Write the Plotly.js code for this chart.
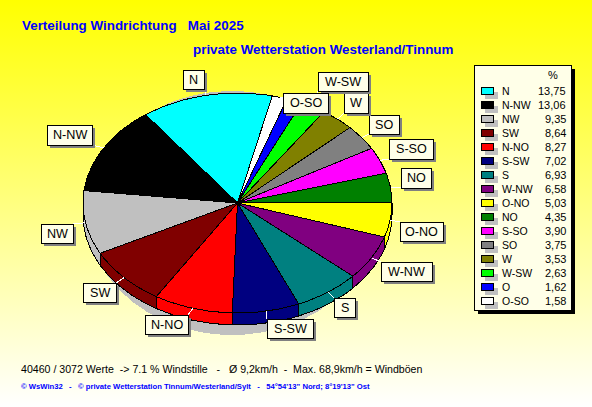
<!DOCTYPE html>
<html><head><meta charset="utf-8">
<script src="https://cdn.plot.ly/plotly-3.0.1.min.js"></script>
<style>html,body{margin:0;padding:0;width:592px;height:407px;overflow:hidden;background:linear-gradient(to bottom,#ffff00 0%,#ffffff 100%)}#c{width:592px;height:407px}
.scatterlayer path,.shapelayer path{shape-rendering:crispEdges}</style>
</head><body><div id="c"></div>
<script>
const categories=["N","N-NW","NW","SW","N-NO","S-SW","S","W-NW","O-NO","NO","S-SO","SO","W","W-SW","O","O-SO"];
const values=[13.75,13.06,9.35,8.64,8.27,7.02,6.93,6.58,5.03,4.35,3.90,3.75,3.53,2.63,1.62,1.58];
const valueLabels=["13,75","13,06","9,35","8,64","8,27","7,02","6,93","6,58","5,03","4,35","3,90","3,75","3,53","2,63","1,62","1,58"];
const colors=["#00FFFF","#000000","#C0C0C0","#800000","#FF0000","#000080","#008080","#800080","#FFFF00","#008000","#FF00FF","#808080","#808000","#00FF00","#0000FF","#FFFFFF"];
const title1="Verteilung Windrichtung\u00a0\u00a0\u00a0Mai 2025";
const title2="private Wetterstation Westerland/Tinnum";
const footer1="40460 / 3072 Werte\u00a0\u00a0-> 7.1 % Windstille\u00a0\u00a0\u00a0-\u00a0\u00a0\u00a0Ø 9,2km/h\u00a0\u00a0-\u00a0\u00a0Max. 68,9km/h = Windböen";
const footer2="© WsWin32\u00a0\u00a0\u00a0-\u00a0\u00a0\u00a0© private Wetterstation Tinnum/Westerland/Sylt\u00a0\u00a0\u00a0-\u00a0\u00a0\u00a054°54'13\" Nord; 8°19'13\" Ost";

// layout geometry
const cx=237.5,cy=203,rx=154.5,ry=110,depth=12,startDeg=13;
const boxes={ "N":[183,70,204,89],"N-NW":[47,125,92,145],"NW":[41,224,73,243],"SW":[83,283,116,302],
 "N-NO":[145,315,188,334],"S-SW":[267,319,313,338],"S":[334,298,355,317],"W-NW":[381,262,432,281],
 "O-NO":[400,222,443,241],"NO":[401,168,431,188],"S-SO":[389,139,433,159],"SO":[369,115,399,134],
 "W":[344,93,368,113],"W-SW":[318,72,368,91],"O-SO":[283,93,328,113]};

const pt=(deg,dy=0)=>{const r=deg*Math.PI/180;return [cx+rx*Math.sin(r),cy-ry*Math.cos(r)+dy];};
const arc=(a,b,dy=0)=>{const n=Math.max(2,Math.ceil(Math.abs(b-a)));const o=[];for(let i=0;i<=n;i++)o.push(pt(a+(b-a)*i/n,dy));return o;};
const total=values.reduce((s,v)=>s+v,0);
const traces=[];
const add=(pts,fill,name)=>traces.push({type:'scatter',mode:'lines',name:name,x:pts.map(p=>p[0]),y:pts.map(p=>p[1]),fill:'toself',fillcolor:fill,line:{color:'#000',width:1},hoverinfo:'skip',showlegend:false});

// soft shadow under the pie
{const s=[];for(let i=0;i<=360;i+=2){const r=i*Math.PI/180;s.push([232+145*Math.sin(r),213-122*Math.cos(r)]);}
 traces.push({type:'scatter',mode:'lines',x:s.map(p=>p[0]),y:s.map(p=>p[1]),fill:'toself',fillcolor:'#C0C0C0',line:{width:0},hoverinfo:'skip',showlegend:false});}

// slices run clockwise, starting from the smallest
const order=categories.map((_,i)=>i).reverse();
let acc=startDeg;const spans={};
order.forEach(i=>{const d=values[i]/total*360;spans[i]=[acc,acc+d];acc+=d;});
// side walls
order.forEach(i=>{let [a,b]=spans[i];const lo=Math.max(a,90),hi=Math.min(b,270);
 if(hi>lo){add(arc(lo,hi).concat(arc(hi,lo,depth)).concat([pt(lo)]),colors[i],categories[i]+" wall");}});
// top faces
order.forEach(i=>{const [a,b]=spans[i];add([[cx,cy]].concat(arc(a,b)).concat([[cx,cy]]),colors[i],categories[i]);});

const shapes=[],ann=[];
const rect=(x0,y0,x1,y1,fill,line)=>shapes.push({type:'rect',layer:'above',xref:'x',yref:'y',x0,y0,x1,y1,fillcolor:fill,line:line?{color:line,width:1}:{width:0}});
const text=(t,x,y,anchor,size,color,bold,fam)=>ann.push({xref:'x',yref:'y',x,y,text:bold?'<b>'+t+'</b>':t,showarrow:false,xanchor:anchor,yanchor:'middle',borderpad:0,font:{family:fam||'Liberation Sans',size,color}});
const paper='#FFFFE8';

// callout labels
categories.forEach((c,i)=>{const bx=boxes[c];if(!bx)return;
 const m=(spans[i][0]+spans[i][1])/2,p=pt(m);
 const ex=Math.min(bx[2],Math.max(bx[0],p[0])),ey=Math.min(bx[3],Math.max(bx[1],p[1]));
 shapes.push({type:'line',layer:'above',xref:'x',yref:'y',x0:p[0],y0:p[1],x1:ex,y1:ey,line:{color:'#fff',width:1}});
 rect(bx[0]+3,bx[1]+3,bx[2]+3,bx[3]+3,'#808080');
 rect(bx[0],bx[1],bx[2],bx[3],paper,'#000');
 text(c,(bx[0]+bx[2])/2,(bx[1]+bx[3])/2,'center',12.6,'#000');
});

// legend panel
rect(478,69,575,314,'#000');
rect(474,65,571,310,paper,'#000');
text('%',553,75,'center',11,'#000');
categories.forEach((c,i)=>{const y=90.7+14*i;
 rect(485,y+1,498,y+8,'#C0C0C0');
 rect(481,y-3,493,y+3.6,colors[i],'#000');
 text(c,501,y,'left',10.5,'#000');
 text(valueLabels[i],567,y,'right',11,'#000');
});

text(title1,21,25,'left',13.4,'#0000FF',true);
text(title2,192,49,'left',13.4,'#0000FF',true);
text(footer1,20,369,'left',10.6,'#000');
text(footer2,20,386,'left',7.67,'#0000FF',true);

Plotly.newPlot('c',traces,{width:592,height:407,margin:{l:0,r:0,t:0,b:0},paper_bgcolor:'rgba(0,0,0,0)',plot_bgcolor:'rgba(0,0,0,0)',
 xaxis:{range:[0,592],visible:false,fixedrange:true},yaxis:{range:[407,0],visible:false,fixedrange:true},shapes,annotations:ann,showlegend:false},{displayModeBar:false,staticPlot:true});
</script></body></html>
